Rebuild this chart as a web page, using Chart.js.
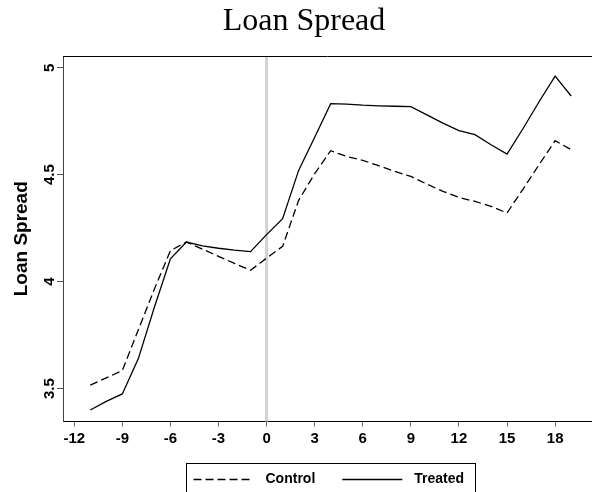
<!DOCTYPE html>
<html>
<head>
<meta charset="utf-8">
<script src="https://cdn.jsdelivr.net/npm/chart.js@4.4.1/dist/chart.umd.min.js"></script>
<style>
  html, body { margin: 0; padding: 0; background: #fff; }
  #wrap { width: 592px; height: 492px; }
</style>
</head>
<body>
<div id="wrap"><canvas id="c" width="592" height="492"></canvas></div>
<script>
// Event time relative to treatment, and mean loan spread per group
const periods = [-11, -10, -9, -8, -7, -6, -5, -4, -3, -2, -1, 0, 1, 2, 3, 4, 5, 6, 7, 8, 9, 10, 11, 12, 13, 14, 15, 16, 17, 18, 19];
const controlSpread = [3.516, 3.550, 3.584, 3.775, 3.965, 4.145, 4.185, 4.152, 4.118, 4.085, 4.053, 4.110, 4.165, 4.380, 4.505, 4.612, 4.585, 4.567, 4.542, 4.515, 4.492, 4.456, 4.422, 4.394, 4.375, 4.352, 4.321, 4.433, 4.547, 4.659, 4.617];
const treatedSpread = [3.400, 3.440, 3.475, 3.640, 3.880, 4.107, 4.185, 4.167, 4.156, 4.147, 4.140, 4.220, 4.294, 4.520, 4.675, 4.832, 4.830, 4.825, 4.822, 4.820, 4.818, 4.780, 4.741, 4.706, 4.687, 4.640, 4.596, 4.716, 4.841, 4.961, 4.868];
const seriesNames = ['Control', 'Treated'];
const xTicks = [-12, -9, -6, -3, 0, 3, 6, 9, 12, 15, 18];
const yTicks = [3.5, 4, 4.5, 5];
const eventPeriod = 0;

const SANS = "'Liberation Sans', Arial, Helvetica, sans-serif";
const SERIF = "'Liberation Serif', 'Times New Roman', serif";

const toPoints = vals => periods.map((p, i) => ({ x: p, y: vals[i] }));

// Light grey vertical line marking the treatment date
const eventLine = {
  id: 'eventLine',
  beforeDatasetsDraw(chart) {
    const { ctx, chartArea, scales } = chart;
    const x = scales.x.getPixelForValue(eventPeriod);
    ctx.save();
    ctx.strokeStyle = '#d2d2d2';
    ctx.lineWidth = 3;
    ctx.beginPath();
    ctx.moveTo(x, chartArea.top);
    ctx.lineTo(x, chartArea.bottom);
    ctx.stroke();
    ctx.restore();
  }
};

// Top edge of the plot region
const plotFrame = {
  id: 'plotFrame',
  afterDraw(chart) {
    const { ctx, chartArea } = chart;
    ctx.save();
    ctx.strokeStyle = '#000';
    ctx.lineWidth = 1;
    ctx.beginPath();
    ctx.moveTo(chartArea.left, chartArea.top + 0.5);
    ctx.lineTo(chart.width, chartArea.top + 0.5);
    ctx.stroke();
    ctx.restore();
  }
};

// Boxed legend below the axis, with line samples taken from each dataset
const boxedLegend = {
  id: 'boxedLegend',
  afterDraw(chart) {
    const { ctx, chartArea } = chart;
    const sets = chart.data.datasets;
    const sampleW = 60, gapText = 12, gapItem = 27, padL = 7, padR = 11;
    ctx.save();
    ctx.font = "bold 14px " + SANS;
    const widths = sets.map(d => ctx.measureText(d.label).width);
    let total = padL + padR;
    sets.forEach((d, i) => { total += sampleW + gapText + widths[i] + (i ? gapItem : 0); });
    const boxLeft = Math.round((chartArea.left + chartArea.right) / 2 + 3 - total / 2) + 0.5;
    const boxTop = 463.5;
    ctx.strokeStyle = '#000';
    ctx.lineWidth = 1;
    ctx.strokeRect(boxLeft, boxTop, Math.round(total), 60);
    const cy = 479.5;
    let x = boxLeft + padL;
    sets.forEach((d, i) => {
      ctx.strokeStyle = d.borderColor;
      ctx.lineWidth = d.borderWidth;
      ctx.setLineDash(d.borderDash || []);
      ctx.beginPath();
      ctx.moveTo(x, cy);
      ctx.lineTo(x + sampleW, cy);
      ctx.stroke();
      ctx.setLineDash([]);
      x += sampleW + gapText;
      ctx.fillStyle = '#000';
      ctx.textBaseline = 'middle';
      ctx.textAlign = 'left';
      ctx.fillText(d.label, x, cy);
      x += widths[i] + gapItem;
    });
    ctx.restore();
  }
};

new Chart(document.getElementById('c'), {
  type: 'line',
  data: {
    datasets: [
      {
        label: seriesNames[0],
        data: toPoints(controlSpread),
        borderColor: '#000',
        borderWidth: 1.3,
        borderDash: [8, 4],
        pointRadius: 0,
        tension: 0,
        fill: false
      },
      {
        label: seriesNames[1],
        data: toPoints(treatedSpread),
        borderColor: '#000',
        borderWidth: 1.3,
        pointRadius: 0,
        tension: 0,
        fill: false
      }
    ]
  },
  options: {
    responsive: false,
    animation: false,
    devicePixelRatio: 1,
    layout: { padding: { left: 16, right: 0, top: 0, bottom: 40.5 } },
    plugins: {
      legend: { display: false },
      tooltip: { enabled: false },
      title: {
        display: true,
        text: 'Loan Spread',
        color: '#000',
        font: { family: SERIF, size: 32, weight: 'normal' },
        padding: { top: 2, bottom: 15.6 }
      }
    },
    scales: {
      x: {
        type: 'linear',
        min: -12.7,
        max: 20.3,
        afterBuildTicks: s => { s.ticks = xTicks.map(v => ({ value: v })); },
        afterFit: s => { s.height = 30; },
        ticks: {
          color: '#000',
          font: { family: SANS, size: 15, weight: 'bold' },
          padding: 3,
          maxRotation: 0,
          autoSkip: false,
          callback: v => String(v)
        },
        grid: { drawOnChartArea: false, drawTicks: true, tickLength: 5, tickColor: '#666' },
        border: { display: true, color: '#000', width: 1 }
      },
      y: {
        type: 'linear',
        min: 3.346,
        max: 5.055,
        afterBuildTicks: s => { s.ticks = yTicks.map(v => ({ value: v })); },
        afterFit: s => { s.width = 47; },
        ticks: {
          color: '#000',
          font: { family: SANS, size: 15, weight: 'bold' },
          minRotation: 90,
          maxRotation: 90,
          crossAlign: 'center',
          padding: -3,
          autoSkip: false,
          callback: v => String(v)
        },
        title: {
          display: true,
          text: 'Loan Spread',
          color: '#000',
          font: { family: SANS, size: 19, weight: 'bold' },
          padding: { top: -5.7, bottom: 0 }
        },
        grid: { drawOnChartArea: false, drawTicks: true, tickLength: 6, tickColor: '#555' },
        border: { display: true, color: '#444', width: 1 }
      }
    }
  },
  plugins: [eventLine, plotFrame, boxedLegend]
});
</script>
</body>
</html>
